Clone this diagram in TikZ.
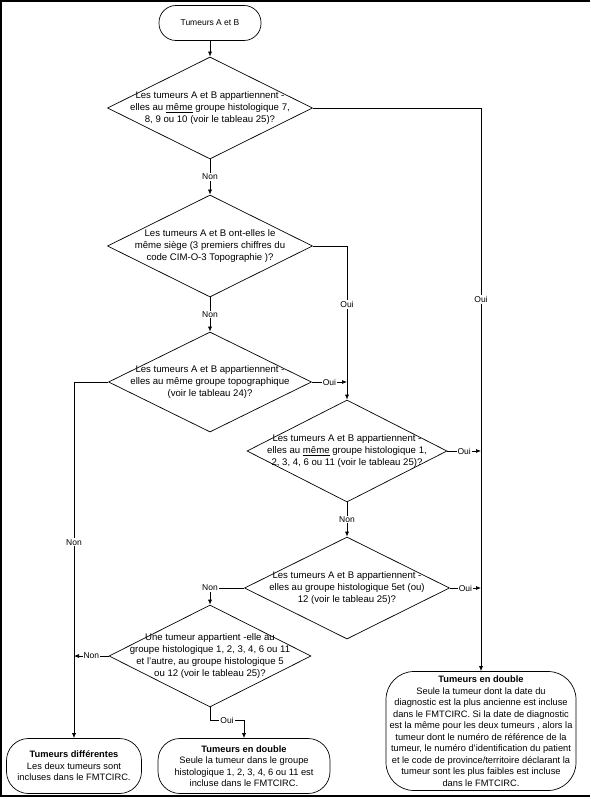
\documentclass[tikz,border=0pt]{standalone}
\usepackage{fontspec}
\setmainfont{Liberation Sans}
\usetikzlibrary{shapes.geometric,arrows.meta}

\begin{document}
\begin{tikzpicture}[x=1pt,y=-1pt,line width=0.7pt,
  every node/.style={font=\fontsize{8.5}{12}\selectfont},
  decision/.style={diamond,draw,minimum width=205pt,minimum height=102pt,inner sep=0pt},
  qtext/.style={align=center,inner sep=0pt,font=\fontsize{9.6}{12}\selectfont},
  term/.style={draw,rounded corners=17pt,minimum width=102pt,minimum height=35pt},
  result/.style={draw,rounded corners=22pt,align=center,inner sep=0pt,font=\fontsize{9.3}{11.5}\selectfont},
  lbl/.style={fill=white,inner sep=1pt},
  arr/.style={-{Latex[length=5pt,width=4pt]}}]
\useasboundingbox (0,0) rectangle (590,799);
\draw[line width=1.4pt] (590,1) -- (1,1) -- (1,796) -- (590,796);

% Start
\node[term] (start) at (210,23) {Tumeurs A et B};

% Questions
\node[decision] (q1) at (210,108) {};
\node[qtext] (q1t) at (q1) {Les tumeurs A et B appartiennent -\\ elles au \underline{même} groupe histologique 7,\\ 8, 9 ou 10 (voir le tableau 25)?};
\node[decision] (q2) at (210,246) {};
\node[qtext] (q2t) at (q2) {Les tumeurs A et B ont-elles le\\ même siège (3 premiers chiffres du\\ code CIM-O-3 Topographie )?};
\node[decision,minimum width=203pt,minimum height=100pt] (q3) at (210,382) {};
\node[qtext] (q3t) at (q3) {Les tumeurs A et B appartiennent -\\ elles au même groupe topographique\\ (voir le tableau 24)?};
\node[decision,minimum width=200pt] (q4) at (347,451) {};
\node[qtext] (q4t) at (q4) {Les tumeurs A et B appartiennent -\\ elles au \underline{même} groupe histologique 1,\\ 2, 3, 4, 6 ou 11 (voir le tableau 25)?};
\node[decision] (q5) at (347,588) {};
\node[qtext] (q5t) at (q5) {Les tumeurs A et B appartiennent -\\ elles au groupe histologique 5et (ou)\\ 12 (voir le tableau 25)?};
\node[decision,minimum width=202pt] (q6) at (210,656) {};
\node[qtext] (q6t) at (q6) {Une tumeur appartient -elle au\\ groupe histologique 1, 2, 3, 4, 6 ou 11\\ et l’autre, au groupe histologique 5\\ ou 12 (voir le tableau 25)?};

% Results
\node[result,minimum width=135pt,minimum height=55pt] (diff) at (74,766) {\textbf{Tumeurs différentes}\\ Les deux tumeurs sont\\ incluses dans le FMTCIRC.};
\node[result,minimum width=172pt,minimum height=55pt] (dbl1) at (244,766) {\textbf{Tumeurs en double}\\ Seule la tumeur dans le groupe\\ histologique 1, 2, 3, 4, 6 ou 11 est\\ incluse dans le FMTCIRC.};
\node[result,rounded corners=28pt,minimum width=190pt,minimum height=119pt] (dbl2) at (481,731) {\textbf{Tumeurs en double}\\ Seule la tumeur dont la date du\\ diagnostic est la plus ancienne est incluse\\ dans le FMTCIRC. Si la date de diagnostic\\ est la même pour les deux tumeurs , alors la\\ tumeur dont le numéro de référence de la\\ tumeur, le numéro d'identification du patient\\ et le code de province/territoire déclarant la\\ tumeur sont les plus faibles est incluse\\ dans le FMTCIRC.};

% Connections
\draw[arr] (start) -- (q1);
\draw[arr] (q1) -- node[lbl]{Non} (q2);
\draw[arr] (q1.east) -| node[lbl,pos=0.67]{Oui} (dbl2.north);
\draw[arr] (q2) -- node[lbl]{Non} (q3);
\draw[arr] (q2.east) -| node[lbl,pos=0.69]{Oui} (q4.north);
\draw[arr] (q3.east) -- node[lbl]{Oui} (q3.east -| q4.north);
\draw[arr] (q3.west) -| node[lbl,pos=0.725]{Non} (diff.north);
\draw[arr] (q4.east) -- node[lbl]{Oui} (q4.east -| dbl2.north);
\draw[arr] (q4) -- node[lbl]{Non} (q5);
\draw[arr] (q5.east) -- node[lbl]{Oui} (q5.east -| dbl2.north);
\draw[arr] (q5.west) -| node[lbl,pos=0.5]{Non} (q6.north);
\draw[arr] (q6.west) -- node[lbl]{Non} (q6.west -| diff.north);
\draw[arr] (q6.south) -- ++(0,13) -| node[lbl,pos=0.25]{Oui} (dbl1.north);
\end{tikzpicture}
\end{document}
